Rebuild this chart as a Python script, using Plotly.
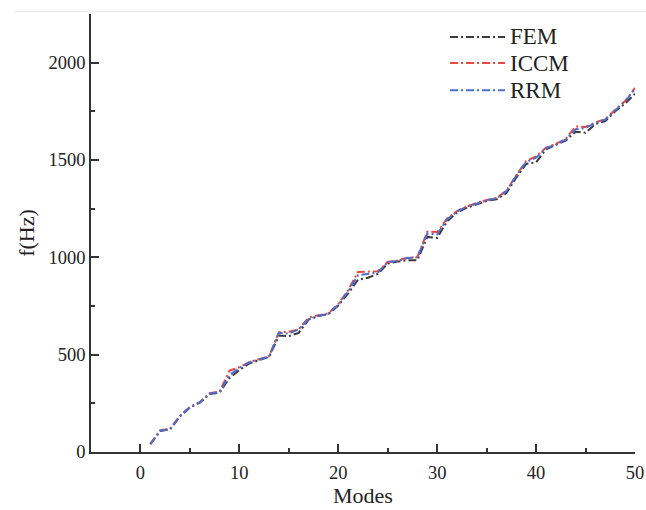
import plotly.graph_objects as go

# Natural frequencies (Hz) of the first 50 modes from three methods
modes = list(range(1, 51))

fem = [40, 108, 116, 183, 228, 253, 298, 305, 380, 420,
       455, 470, 488, 598, 595, 612, 680, 698, 708, 752,
       815, 885, 895, 915, 968, 978, 985, 985, 1105, 1100,
       1185, 1230, 1255, 1272, 1290, 1298, 1330, 1410, 1480, 1488,
       1555, 1578, 1600, 1645, 1640, 1685, 1700, 1750, 1790, 1840]

iccm = [42, 112, 119, 186, 231, 256, 302, 310, 418, 435,
        462, 476, 492, 615, 618, 630, 690, 703, 712, 760,
        832, 925, 925, 928, 976, 984, 998, 1002, 1132, 1130,
        1200, 1238, 1262, 1278, 1295, 1305, 1342, 1422, 1495, 1518,
        1563, 1583, 1608, 1672, 1670, 1693, 1710, 1758, 1803, 1870]

rrm = [40, 110, 118, 185, 230, 255, 300, 308, 395, 432,
       460, 475, 490, 612, 608, 630, 682, 700, 710, 756,
       825, 908, 915, 922, 975, 982, 997, 1000, 1122, 1118,
       1195, 1235, 1260, 1275, 1293, 1303, 1340, 1420, 1490, 1512,
       1560, 1580, 1605, 1658, 1665, 1690, 1708, 1755, 1800, 1865]

series_names = ["FEM", "ICCM", "RRM"]
series_colors = ["#3a3a3a", "#f0453a", "#4a6fd0"]

x_ticks = [0, 10, 20, 30, 40, 50]
y_ticks = [0, 500, 1000, 1500, 2000]

serif = "Liberation Serif"
axis_col = "#333333"
text_col = "#222222"
dash = "8px,3px,2px,3px"

fig = go.Figure()
for name, ys, col in zip(series_names, [fem, iccm, rrm], series_colors):
    fig.add_trace(go.Scatter(x=modes, y=ys, name=name, mode="lines",
                             line=dict(color=col, width=2, dash=dash),
                             showlegend=False))

fig.update_layout(
    width=646, height=510,
    margin=dict(l=91, r=11, t=14, b=58),
    paper_bgcolor="white", plot_bgcolor="white",
    font=dict(family=serif, size=18.5, color=text_col),
    showlegend=False,
)

fig.update_xaxes(
    range=[-5, 50], tickvals=x_ticks, ticks="inside", ticklen=8, tickwidth=1.8,
    tickcolor=axis_col, showline=True, linecolor=axis_col, linewidth=1.8,
    showgrid=False, zeroline=False, ticklabelstandoff=3, automargin=False,
    minor=dict(dtick=5, tick0=0, ticks="inside", ticklen=4, tickwidth=1.8, tickcolor=axis_col),
    title=dict(text="Modes", font=dict(family=serif, size=22), standoff=6),
    tickfont=dict(family=serif, size=18.5, color=text_col),
)
fig.update_yaxes(
    range=[0, 2250], tickvals=y_ticks, ticks="inside", ticklen=8, tickwidth=1.8,
    tickcolor=axis_col, showline=True, linecolor=axis_col, linewidth=1.8,
    showgrid=False, zeroline=False, automargin=False,
    minor=dict(dtick=250, tick0=0, ticks="inside", ticklen=4, tickwidth=1.8, tickcolor=axis_col),
    title=dict(text="f(Hz)", font=dict(family=serif, size=22), standoff=8),
    tickfont=dict(family=serif, size=18.5, color=text_col),
)

# legend: dash-dot sample line plus label for each method
legend_rows = [0.9475, 0.888, 0.826]
for name, col, yr in zip(series_names, series_colors, legend_rows):
    fig.add_shape(type="line", xref="paper", yref="paper",
                  x0=0.660, x1=0.761, y0=yr, y1=yr,
                  line=dict(color=col, width=2, dash=dash))
    fig.add_annotation(text=name, xref="paper", yref="paper", x=0.766, y=yr,
                       xanchor="left", yanchor="middle", showarrow=False,
                       font=dict(family=serif, size=23, color=text_col))

# faint frame line along the top of the figure
fig.add_shape(type="line", xref="paper", yref="paper", x0=-0.14, x1=1.03, y0=1.005, y1=1.005,
              line=dict(color="#efefef", width=1.5))

fig.write_html("out.html")
